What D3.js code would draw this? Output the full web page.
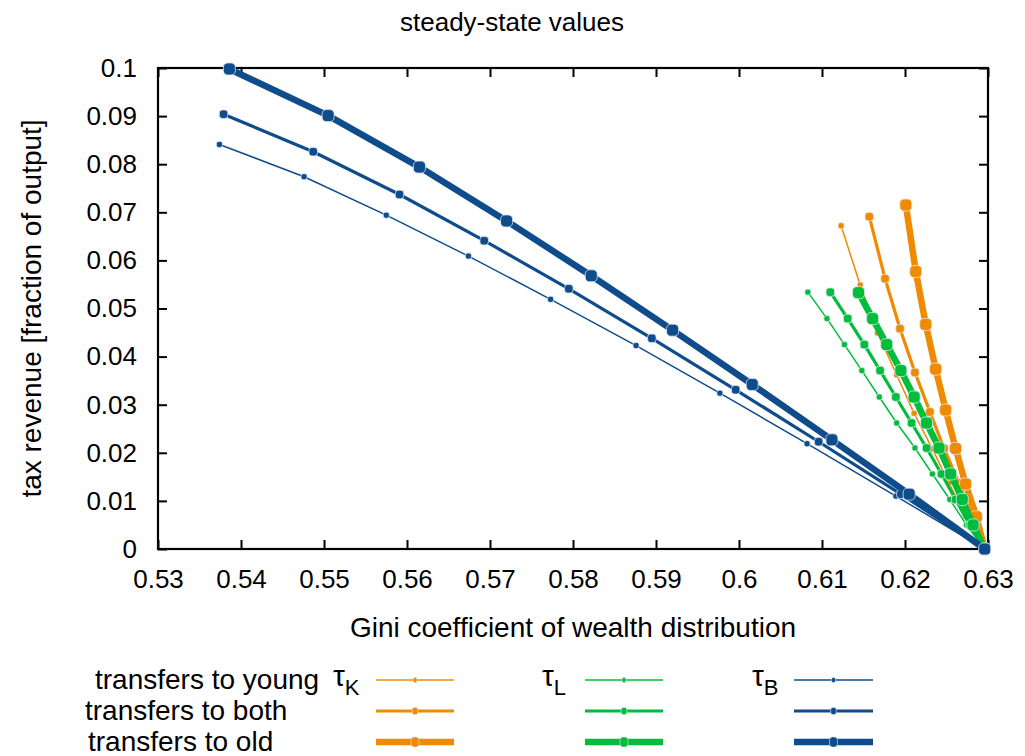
<!DOCTYPE html>
<html>
<head>
<meta charset="utf-8">
<script src="https://cdn.jsdelivr.net/npm/d3@7"></script>
<style>
  html, body { margin: 0; padding: 0; background: #fff; }
  svg { display: block; font-family: "Liberation Sans", Arial, Helvetica, sans-serif; }
</style>
</head>
<body>
<svg id="chart" width="1025" height="756"></svg>
<script>
// ---------- data ----------
const xTicks = [0.53, 0.54, 0.55, 0.56, 0.57, 0.58, 0.59, 0.6, 0.61, 0.62, 0.63];
const yTicks = [0, 0.01, 0.02, 0.03, 0.04, 0.05, 0.06, 0.07, 0.08, 0.09, 0.1];
const xTickLabels = ["0.53", "0.54", "0.55", "0.56", "0.57", "0.58", "0.59", "0.6", "0.61", "0.62", "0.63"];
const yTickLabels = ["0", "0.01", "0.02", "0.03", "0.04", "0.05", "0.06", "0.07", "0.08", "0.09", "0.1"];

const taxKeys = ["K", "L", "B"];
const transferNames = ["transfers to young", "transfers to both", "transfers to old"];

// tau_K (capital tax)
const giniKYoung = [0.6123, 0.6146, 0.6167, 0.6190, 0.6211, 0.6233, 0.6253, 0.6273, 0.6296];
const revKYoung  = [0.0672, 0.0549, 0.0449, 0.0362, 0.0282, 0.0208, 0.0137, 0.0069, 0.0];
const giniKBoth  = [0.6157, 0.6176, 0.6194, 0.6212, 0.6230, 0.6247, 0.6265, 0.6280, 0.6296];
const revKBoth   = [0.0691, 0.0562, 0.0458, 0.0367, 0.0285, 0.0209, 0.0137, 0.0069, 0.0];
const giniKOld   = [0.6201, 0.6213, 0.6225, 0.6237, 0.6249, 0.6261, 0.6273, 0.6286, 0.6296];
const revKOld    = [0.0715, 0.0577, 0.0467, 0.0374, 0.0289, 0.0209, 0.0135, 0.0067, 0.0];

// tau_L (labour tax)
const giniLYoung = [0.6083, 0.6106, 0.6127, 0.6148, 0.6169, 0.6190, 0.6212, 0.6233, 0.6254, 0.6274, 0.6296];
const revLYoung  = [0.0534, 0.0479, 0.0425, 0.0371, 0.0316, 0.0262, 0.0210, 0.0156, 0.0103, 0.0050, 0.0];
const giniLBoth  = [0.6110, 0.6131, 0.6151, 0.6170, 0.6189, 0.6208, 0.6226, 0.6244, 0.6261, 0.6278, 0.6296];
const revLBoth   = [0.0534, 0.0479, 0.0425, 0.0371, 0.0316, 0.0262, 0.0210, 0.0156, 0.0103, 0.0050, 0.0];
const giniLOld   = [0.6144, 0.6161, 0.6178, 0.6195, 0.6211, 0.6226, 0.6241, 0.6255, 0.6269, 0.6282, 0.6296];
const revLOld    = [0.0533, 0.0479, 0.0425, 0.0371, 0.0316, 0.0262, 0.0210, 0.0156, 0.0103, 0.0050, 0.0];

// tau_B (bequest tax)
const giniBYoung = [0.5374, 0.5476, 0.5575, 0.5674, 0.5773, 0.5876, 0.5977, 0.6082, 0.6189, 0.6296];
const revBYoung  = [0.0841, 0.0774, 0.0694, 0.0609, 0.0519, 0.0423, 0.0324, 0.0219, 0.0110, 0.0];
const giniBBoth  = [0.5379, 0.5487, 0.5591, 0.5693, 0.5795, 0.5895, 0.5996, 0.6096, 0.6195, 0.6296];
const revBBoth   = [0.0904, 0.0826, 0.0737, 0.0641, 0.0541, 0.0438, 0.0331, 0.0223, 0.0114, 0.0];
const giniBOld   = [0.5386, 0.5505, 0.5615, 0.5720, 0.5822, 0.5920, 0.6016, 0.6112, 0.6205, 0.6296];
const revBOld    = [0.0998, 0.0901, 0.0794, 0.0682, 0.0568, 0.0455, 0.0342, 0.0227, 0.0114, 0.0];

(function () {
// ---------- styles ----------
const colors = { K: "#f08a00", L: "#00be3c", B: "#0e4c8c" };
const lineWidths = [1.5, 3.2, 6.5];
const markerSizes = [6, 8.5, 12];

const series = [
  { tax: "K", t: 0, x: giniKYoung, y: revKYoung },
  { tax: "K", t: 1, x: giniKBoth,  y: revKBoth },
  { tax: "K", t: 2, x: giniKOld,   y: revKOld },
  { tax: "L", t: 0, x: giniLYoung, y: revLYoung },
  { tax: "L", t: 1, x: giniLBoth,  y: revLBoth },
  { tax: "L", t: 2, x: giniLOld,   y: revLOld },
  { tax: "B", t: 0, x: giniBYoung, y: revBYoung },
  { tax: "B", t: 1, x: giniBBoth,  y: revBBoth },
  { tax: "B", t: 2, x: giniBOld,   y: revBOld }
];

// ---------- layout ----------
const svg = d3.select("#chart");
const pL = 158, pR = 988, pT = 68, pB = 549;
const x = d3.scaleLinear().domain([0.53, 0.63]).range([pL, pR]);
const y = d3.scaleLinear().domain([0, 0.1]).range([pB, pT]);

const tickLen = 9;
const fs = 26;     // tick labels
const fsL = 28;    // axis labels, legend

const axB = d3.axisBottom(x).tickValues(xTicks).tickSize(-tickLen).tickFormat((d, i) => xTickLabels[i]).tickPadding(tickLen + 12);
const axT = d3.axisTop(x).tickValues(xTicks).tickSize(-tickLen).tickFormat("");
const axL = d3.axisLeft(y).tickValues(yTicks).tickSize(-tickLen).tickFormat((d, i) => yTickLabels[i]).tickPadding(tickLen + 12);
const axR = d3.axisRight(y).tickValues(yTicks).tickSize(-tickLen).tickFormat("");

function styleAxis(g) {
  g.select(".domain").remove();
  g.selectAll(".tick line").attr("stroke", "#000").attr("stroke-width", 2);
  g.selectAll(".tick text").attr("fill", "#000").attr("font-size", fs).attr("font-family", "Liberation Sans, Arial, sans-serif");
}
svg.append("g").attr("transform", `translate(0,${pB})`).call(axB).call(styleAxis);
svg.append("g").attr("transform", `translate(0,${pT})`).call(axT).call(styleAxis);
svg.append("g").attr("transform", `translate(${pL},0)`).call(axL).call(styleAxis);
svg.append("g").attr("transform", `translate(${pR},0)`).call(axR).call(styleAxis);

svg.append("rect").attr("x", pL).attr("y", pT).attr("width", pR - pL).attr("height", pB - pT)
  .attr("fill", "none").attr("stroke", "#000").attr("stroke-width", 2.2);

// ---------- data lines ----------
const plot = svg.append("g");
const line = d3.line().x(d => x(d[0])).y(d => y(d[1]));

function drawMarker(g, cx, cy, size, color) {
  g.append("rect")
    .attr("x", cx - size / 2).attr("y", cy - size / 2)
    .attr("width", size).attr("height", size)
    .attr("rx", size * 0.35).attr("ry", size * 0.35)
    .attr("fill", color)
    .attr("stroke", "#dfe6ee").attr("stroke-width", 0.8);
}

series.forEach(s => {
  const pts = s.x.map((v, i) => [v, s.y[i]]);
  const g = plot.append("g");
  g.append("path").datum(pts).attr("d", line)
    .attr("fill", "none").attr("stroke", colors[s.tax])
    .attr("stroke-width", lineWidths[s.t]).attr("stroke-linejoin", "round");
  pts.forEach(p => drawMarker(g, x(p[0]), y(p[1]), markerSizes[s.t], colors[s.tax]));
});

// ---------- titles ----------
svg.append("text").attr("x", 512).attr("y", 31).attr("text-anchor", "middle")
  .attr("font-size", fs).text("steady-state values");
svg.append("text").attr("x", 573).attr("y", 637).attr("text-anchor", "middle")
  .attr("font-size", fsL).text("Gini coefficient of wealth distribution");
svg.append("text").attr("transform", `translate(41,${(pT + pB) / 2}) rotate(-90)`).attr("text-anchor", "middle")
  .attr("font-size", fsL).text("tax revenue [fraction of output]");

// ---------- legend ----------
const legRows = [680, 711, 742];
const legTextX = [95, 85, 88];
transferNames.forEach((name, i) => {
  svg.append("text").attr("x", legTextX[i]).attr("y", legRows[i] + 9)
    .attr("font-size", fsL).text(name);
});
const tauX = [333, 542, 752];
const segX = [[376, 454], [585, 663], [794, 873]];
taxKeys.forEach((k, j) => {
  const t = svg.append("text").attr("x", tauX[j]).attr("y", legRows[0] + 6).attr("font-size", 30);
  t.append("tspan").text("τ");
  t.append("tspan").attr("font-size", 22).attr("dy", 9).text(k);
  [0, 1, 2].forEach(i => {
    const yy = legRows[i];
    svg.append("line").attr("x1", segX[j][0]).attr("x2", segX[j][1]).attr("y1", yy).attr("y2", yy)
      .attr("stroke", colors[k]).attr("stroke-width", lineWidths[i]);
    const cx = (segX[j][0] + segX[j][1]) / 2;
    const ms = markerSizes[i] * 0.85;
    svg.append("rect").attr("x", cx - ms / 2.6).attr("y", yy - ms / 2).attr("width", ms / 1.3).attr("height", ms)
      .attr("rx", ms * 0.3).attr("fill", colors[k]).attr("stroke", "#dfe6ee").attr("stroke-width", 0.6);
  });
});
})();
</script>
</body>
</html>
